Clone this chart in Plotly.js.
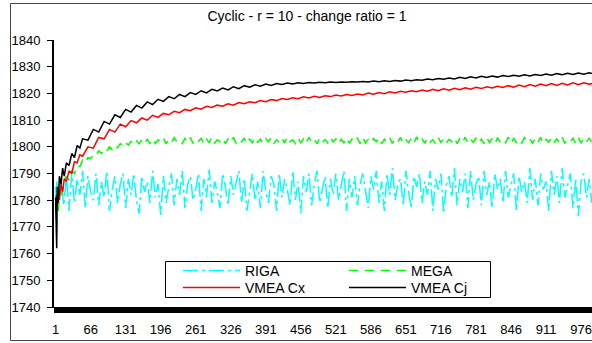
<!DOCTYPE html>
<html>
<head>
<meta charset="utf-8">
<script src="https://cdn.plot.ly/plotly-3.0.1.min.js"></script>
<style>
html,body{margin:0;padding:0;overflow:hidden;background:#fff;}
#chart{width:600px;height:343px;}
</style>
</head>
<body>
<div id="chart"></div>
<script>
// iteration index at which the VMEA values were read
const X = [1,2,3,4,6,8,11,14,17,21,26,31,36,41,46,51,61,71,81,91,
101,111,121,131,141,151,161,171,181,191,201,211,221,231,241,251,261,271,281,291,
301,311,321,331,341,351,361,371,381,391,401,411,421,431,441,451,461,471,481,491,
501,511,521,531,541,551,561,571,581,591,601,611,621,631,641,651,661,671,681,691,
701,711,721,731,741,751,761,771,781,791,801,811,821,831,841,851,861,871,881,891,
901,911,921,931,941,951,961,971,981,991,1000];

// finer iteration index for the noisy RIGA / MEGA series
const X_FINE = [1,2,3,4,6,8,11,16,21,26,31,36,41,46,51,56,61,66,71,76,
81,86,91,96,101,106,111,116,121,126,131,136,141,146,151,156,161,166,171,176,
181,186,191,196,201,206,211,216,221,226,231,236,241,246,251,256,261,266,271,276,
281,286,291,296,301,306,311,316,321,326,331,336,341,346,351,356,361,366,371,376,
381,386,391,396,401,406,411,416,421,426,431,436,441,446,451,456,461,466,471,476,
481,486,491,496,501,506,511,516,521,526,531,536,541,546,551,556,561,566,571,576,
581,586,591,596,601,606,611,616,621,626,631,636,641,646,651,656,661,666,671,676,
681,686,691,696,701,706,711,716,721,726,731,736,741,746,751,756,761,766,771,776,
781,786,791,796,801,806,811,816,821,826,831,836,841,846,851,856,861,866,871,876,
881,886,891,896,901,906,911,916,921,926,931,936,941,946,951,956,961,966,971,976,
981,986,991,996,1000];

const RIGA = [1785,1781,1787,1779,1786,1782,1788,1778,1789,1776,1790,1779,1788,1782,1791,1777,1789,1783,1780,1790,
1778,1787,1781,1791,1776,1784,1789,1779,1786,1790,1777,1788,1782,1790,1780,1775,1789,1783,1787,1779,
1791,1781,1786,1774.5,1789,1779,1785,1790,1778,1788,1782,1791,1777,1786,1789,1780,1784,1790,1776,1788,
1781,1791.5,1779,1787,1783,1777,1790,1785,1778,1789,1782,1786,1791,1779,1788,1776,1784,1790,1780,1787,
1777,1791,1783,1779,1789,1786,1776,1790,1781,1788,1784,1778,1791,1780,1787,1775,1789,1783,1790,1778,
1786,1791,1779,1784,1789,1777,1788,1782,1790,1780,1785,1791,1776,1788,1781,1789,1778,1786,1790,1783,
1777,1789,1784,1791,1779,1787,1776,1790,1782,1792,1780,1786,1788,1778,1791,1783,1777,1789,1785,1790,
1779,1787,1782,1791,1776,1788,1784,1790,1775,1786,1789,1781,1792,1778,1788,1783,1790,1777,1791,1780,
1786,1789,1778,1791,1782,1787,1777,1790,1784,1788,1779,1791,1781,1786,1790,1776,1789,1783,1787,1779,
1792,1780,1788,1778,1790,1784,1787,1776,1791,1782,1789,1779,1792,1781,1786,1790,1777,1788,1774,1787,
1790,1781,1788,1779,1786];

const MEGA = [1782,1775,1767,1779,1776,1784,1781,1786,1789,1787.5,1791,1790,1793,1792.5,1795,1794,1796,1795.5,1797,1796.5,
1798.5,1797.5,1799,1798.2,1800,1799,1800.6,1799.6,1801.2,1800.2,1801.6,1800.6,1802,1800.9,1802.3,1801.1,1802.6,1801.2,1802.8,1801.3,
1803,1801.2,1802.6,1801.8,1803.3,1801.1,1802.7,1801.5,1803.4,1801.9,1802.5,1801.2,1803.1,1801.6,1803.5,1801.3,1802.8,1802,1803.2,1801.1,
1802.9,1801.6,1803.6,1801.4,1802.6,1801.9,1803.2,1801.2,1803,1801.7,1803.5,1801.3,1802.7,1801.8,1803.3,1801.1,1802.9,1801.5,1803.4,1801.6,
1802.8,1801.3,1803.1,1801.8,1803.5,1801.2,1802.7,1801.6,1803.3,1801.4,1803.8,1801.9,1802.6,1801.2,1803.2,1801.5,1803,1801.3,1803.6,1801.7,
1802.9,1801.2,1803.3,1801.6,1802.7,1801.4,1803.5,1801.8,1803,1801.1,1802.8,1801.5,1803.4,1801.3,1802.9,1801.7,1803.2,1801.2,1803.6,1801.5,
1802.7,1801.4,1803.1,1801.9,1803.4,1801.2,1802.8,1801.6,1803.3,1801.3,1803,1801.8,1803.5,1801.2,1802.6,1801.5,1803.2,1801.4,1803.7,1801.6,
1802.9,1801.3,1803.3,1801.7,1802.7,1801.2,1803.5,1801.6,1803.1,1801.4,1802.8,1801.9,1803.4,1801.2,1803,1801.5,1803.6,1801.3,1802.8,1801.7,
1803.2,1801.4,1802.9,1801.2,1803.5,1801.6,1803,1801.3,1803.3,1801.8,1802.7,1801.5,1803.6,1801.2,1803.1,1801.6,1802.8,1801.4,1803.4,1801.9,
1802.9,1801.3,1803.2,1801.6,1803.5,1801.2,1802.8,1801.7,1803.3,1801.4,1803,1801.5,1803.6,1801.3,1802.7,1801.8,1803.2,1801.2,1803.4,1801.5,
1803,1801.6,1803.3,1801.4,1802.9];

const VMEA_CX = [1779,1775,1782,1778,1784,1780,1786,1783,1788,1787,1791,1790,1794.5,1794,1797,1796.5,1800,1799.5,1803.5,1803,
1806.5,1805.5,1808.5,1807.5,1809.8,1809,1810.8,1810,1811.8,1811,1812.5,1812,1813.3,1812.8,1814,1813.5,1814.6,1814.1,1815.2,1814.7,
1815.6,1815.2,1816.1,1815.6,1816.6,1816.1,1816.9,1816.5,1817.3,1816.9,1817.7,1817.3,1818.1,1817.7,1818.4,1818,1818.7,1818.3,1818.9,1818.5,
1819.1,1818.8,1819.4,1819,1819.6,1819.2,1819.8,1819.4,1820.1,1819.7,1820.3,1819.9,1820.6,1820.2,1820.8,1820.4,1821,1820.6,1821.3,1820.8,
1821.5,1821,1821.7,1821.2,1821.9,1821.4,1822.1,1821.6,1822.3,1821.8,1822.5,1822,1822.7,1822.2,1822.9,1822.3,1823.1,1822.5,1823.3,1822.7,
1823.5,1822.9,1823.7,1823,1823.8,1823.2,1824,1823.3,1824,1823.4,1823.9];

const VMEA_CJ = [1781,1770,1762,1785,1779,1789,1786,1792,1789,1794,1793,1797.5,1796,1800.5,1799.5,1803,1802.5,1806.5,1805.5,1809.5,
1808.5,1812,1811,1814,1813,1815.5,1814.5,1816.8,1815.8,1817.8,1817,1818.8,1818,1819.6,1818.8,1820.3,1819.6,1821,1820.2,1821.5,
1820.9,1822,1821.3,1822.5,1821.8,1822.9,1822.3,1823.2,1822.7,1823.5,1823,1823.7,1823.3,1823.9,1823.5,1824,1823.7,1824.1,1823.9,1824.2,
1824,1824.3,1824.1,1824.3,1824.2,1824.4,1824.3,1824.5,1824.3,1824.6,1824.4,1824.7,1824.5,1824.8,1824.6,1825,1824.7,1825.1,1824.9,1825.4,
1825.1,1825.6,1825.3,1825.8,1825.4,1826,1825.6,1826.2,1825.8,1826.4,1826,1826.5,1826.1,1826.7,1826.3,1826.8,1826.4,1827,1826.5,1827.1,
1826.7,1827.3,1826.8,1827.4,1827,1827.5,1827.1,1827.6,1827.2,1827.7,1827.3];

const TICK_LABELS = [1,66,131,196,261,326,391,456,521,586,651,716,781,846,911,976];
const Y_TICKS = [1740,1750,1760,1770,1780,1790,1800,1810,1820,1830,1840];

const FONT = 'Liberation Sans, Arial, sans-serif';

const traces = [
  {x: X_FINE, y: RIGA, name: 'RIGA', mode: 'lines', legend: 'legend',
   line: {color: '#00FFFF', width: 1.5, dash: '15px,4px,3px,4px'}},
  {x: X_FINE, y: MEGA, name: 'MEGA', mode: 'lines', legend: 'legend2',
   line: {color: '#00FF00', width: 1.5, dash: '9px,7px'}},
  {x: X, y: VMEA_CX, name: 'VMEA Cx', mode: 'lines', legend: 'legend3',
   line: {color: '#FF0000', width: 1.5}},
  {x: X, y: VMEA_CJ, name: 'VMEA Cj', mode: 'lines', legend: 'legend4',
   line: {color: '#000000', width: 1.5}}
];

const L = 54, PW = 540, T = 40, PH = 267;
const px2x = p => (p - L) / PW;
const px2y = p => (T + PH - p) / PH;

function legendAt(xpx, ypx) {
  return {
    orientation: 'v', x: px2x(xpx), xanchor: 'left', y: px2y(ypx), yanchor: 'middle',
    borderwidth: 0, bgcolor: 'rgba(0,0,0,0)', itemwidth: 57,
    font: {family: FONT, size: 14, color: '#000'}
  };
}

const layout = {
  width: 600, height: 343,
  margin: {l: L, r: 600 - L - PW, t: T, b: 343 - T - PH, pad: 0},
  paper_bgcolor: '#fff', plot_bgcolor: '#fff',
  font: {family: FONT, size: 13, color: '#000'},
  showlegend: true,
  title: {text: 'Cyclic - r = 10 - change ratio = 1', font: {family: FONT, size: 14, color: '#000'},
          xref: 'container', yref: 'container', x: 307/600, xanchor: 'center', y: 1 - 16/343, yanchor: 'middle'},
  xaxis: {
    range: [-2, 1000], showgrid: false, zeroline: false,
    showline: true, linecolor: '#000', linewidth: 1,
    tickmode: 'array', tickvals: TICK_LABELS, ticktext: TICK_LABELS.map(String),
    ticks: 'outside', ticklen: 5, tickcolor: '#000', tickwidth: 1,
    ticklabelstandoff: 5,
    minor: {tickmode: 'linear', tick0: 0, dtick: 1, ticks: 'outside', ticklen: 5, tickcolor: '#000', tickwidth: 1, showgrid: false},
    tickfont: {family: FONT, size: 13, color: '#000'}
  },
  yaxis: {
    range: [1740, 1840], showgrid: false, zeroline: false,
    showline: true, linecolor: '#000', linewidth: 2,
    tickmode: 'array', tickvals: Y_TICKS,
    ticks: 'outside', ticklen: 5, tickcolor: '#000', tickwidth: 1,
    ticklabelstandoff: 4,
    tickfont: {family: FONT, size: 13, color: '#000'}
  },
  legend: legendAt(178, 271),
  legend2: legendAt(344, 271),
  legend3: legendAt(178, 288),
  legend4: legendAt(344, 288),
  shapes: [
    {type: 'rect', xref: 'paper', yref: 'paper',
     x0: px2x(10.5), x1: px2x(599), y0: px2y(340.5), y1: px2y(3.5),
     line: {color: '#444', width: 1}, fillcolor: 'rgba(0,0,0,0)', layer: 'below'},
    {type: 'rect', xref: 'paper', yref: 'paper',
     x0: px2x(165.5), x1: px2x(490.5), y0: px2y(297.5), y1: px2y(261.5),
     line: {color: '#000', width: 1}, fillcolor: '#fff', layer: 'above'}
  ]
};

Plotly.newPlot('chart', traces, layout, {displayModeBar: false, staticPlot: true});
</script>
</body>
</html>
